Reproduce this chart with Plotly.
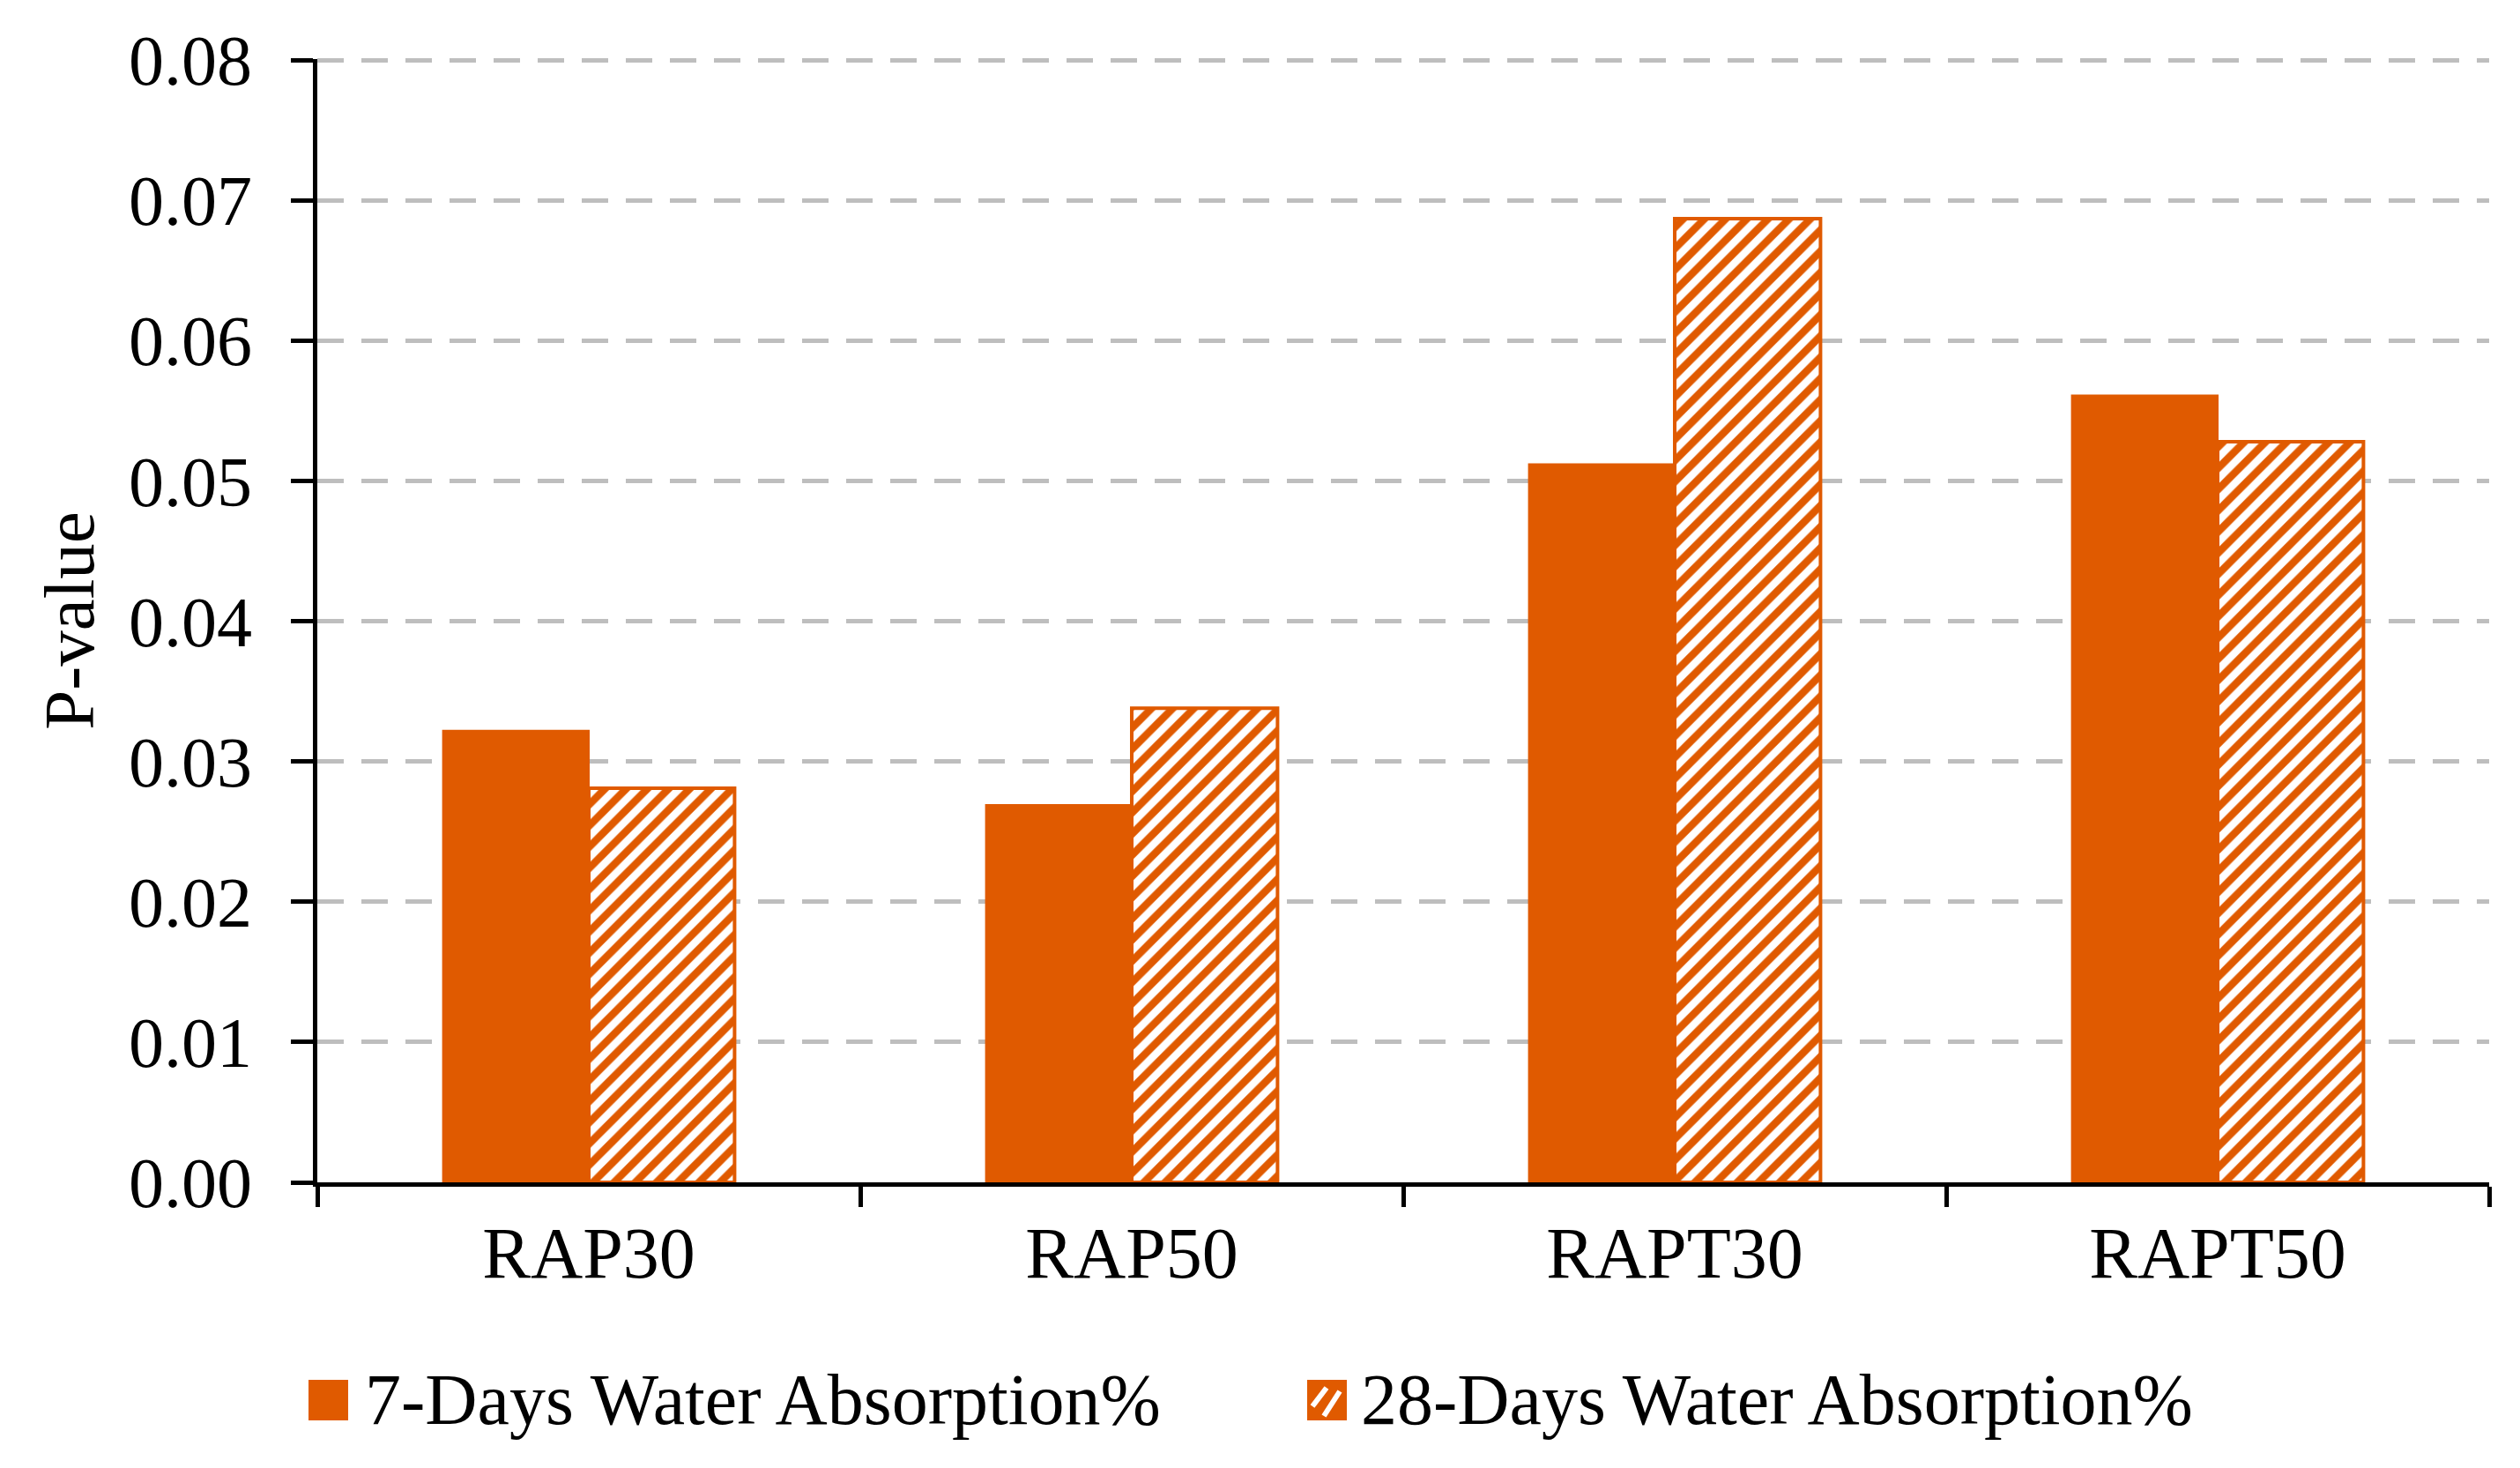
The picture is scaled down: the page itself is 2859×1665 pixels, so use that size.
import plotly.graph_objects as go

categories = ["RAP30", "RAP50", "RAPT30", "RAPT50"]
series_names = ["7-Days Water Absorption%", "28-Days Water Absorption%"]
values_7d = [0.0322, 0.0269, 0.0512, 0.0561]
values_28d = [0.0281, 0.0338, 0.0687, 0.0528]
y_ticks = [0.00, 0.01, 0.02, 0.03, 0.04, 0.05, 0.06, 0.07, 0.08]

ORANGE = "#E05A00"
FONT = "Liberation Serif"
OFF = 8  # body margin of the html page
PAGE_W, PAGE_H = 2859, 1665
FIG_W, FIG_H = PAGE_W - OFF, PAGE_H - OFF
# plot area in page pixels
L, R, T, B = 360, 2824, 67, 1341

def px_x(x):
    return (x - L) / (R - L)

def px_y(y):
    return (B - y) / (B - T)

fig = go.Figure()
fig.add_trace(go.Bar(
    x=categories, y=values_7d, name=series_names[0],
    marker=dict(color=ORANGE, line=dict(color=ORANGE, width=2)),
    showlegend=False,
))
fig.add_trace(go.Bar(
    x=categories, y=values_28d, name=series_names[1],
    marker=dict(color=ORANGE, line=dict(color=ORANGE, width=4),
                pattern=dict(shape="/", fillmode="replace", fgcolor=ORANGE,
                             bgcolor="white", size=17, solidity=0.5)),
    showlegend=False,
))

shapes = []
annotations = []
# manual legend (larger swatches than plotly's built-in ones)
sw_y0, sw_y1 = 1565, 1611
shapes.append(dict(type="rect", xref="paper", yref="paper",
                   x0=px_x(350), x1=px_x(395), y0=px_y(sw_y1), y1=px_y(sw_y0),
                   fillcolor=ORANGE, line=dict(width=0)))
shapes.append(dict(type="rect", xref="paper", yref="paper",
                   x0=px_x(1483), x1=px_x(1528), y0=px_y(sw_y1), y1=px_y(sw_y0),
                   fillcolor=ORANGE, line=dict(width=0)))
for (xa, ya, xb, yb) in [(1489, 1595, 1505, 1574), (1502, 1606, 1520, 1578)]:
    shapes.append(dict(type="line", xref="paper", yref="paper",
                       x0=px_x(xa), y0=px_y(ya), x1=px_x(xb), y1=px_y(yb),
                       line=dict(color="white", width=6)))
annotations.append(dict(text=series_names[0], xref="paper", yref="paper",
                        x=px_x(412), y=px_y(1588), xanchor="left", yanchor="middle",
                        showarrow=False, font=dict(family=FONT, size=82, color="black")))
annotations.append(dict(text=series_names[1], xref="paper", yref="paper",
                        x=px_x(1542), y=px_y(1588), xanchor="left", yanchor="middle",
                        showarrow=False, font=dict(family=FONT, size=82, color="black")))

fig.update_layout(
    template="none",
    width=FIG_W, height=FIG_H,
    margin=dict(l=L - OFF, r=FIG_W - (R - OFF), t=T - OFF, b=FIG_H - (B - OFF),
                autoexpand=False),
    paper_bgcolor="white", plot_bgcolor="white",
    barmode="group", bargap=0.463, bargroupgap=0,
    font=dict(family=FONT, size=82, color="black"),
    shapes=shapes, annotations=annotations,
    showlegend=False,
)
fig.update_xaxes(
    type="category", automargin=False, showline=True, linecolor="black", linewidth=5,
    ticks="outside", tickson="boundaries", ticklen=23, tickwidth=5, tickcolor="black",
    showgrid=False, zeroline=False, ticklabelstandoff=5,
    tickfont=dict(family=FONT, size=82, color="black"),
)
fig.update_yaxes(
    automargin=False, range=[0, 0.08008], tickvals=y_ticks, tickformat=".2f",
    showline=True, linecolor="black", linewidth=5,
    ticks="outside", ticklen=25, tickwidth=5, tickcolor="black",
    showgrid=True, gridcolor="#BEBEBE", gridwidth=5, griddash="30px,20px",
    zeroline=False, ticklabelstandoff=28,
    tickfont=dict(family=FONT, size=80, color="black"),
    title=dict(text="P-value", standoff=14, font=dict(family=FONT, size=81, color="black")),
)

fig.write_html("out.html")
